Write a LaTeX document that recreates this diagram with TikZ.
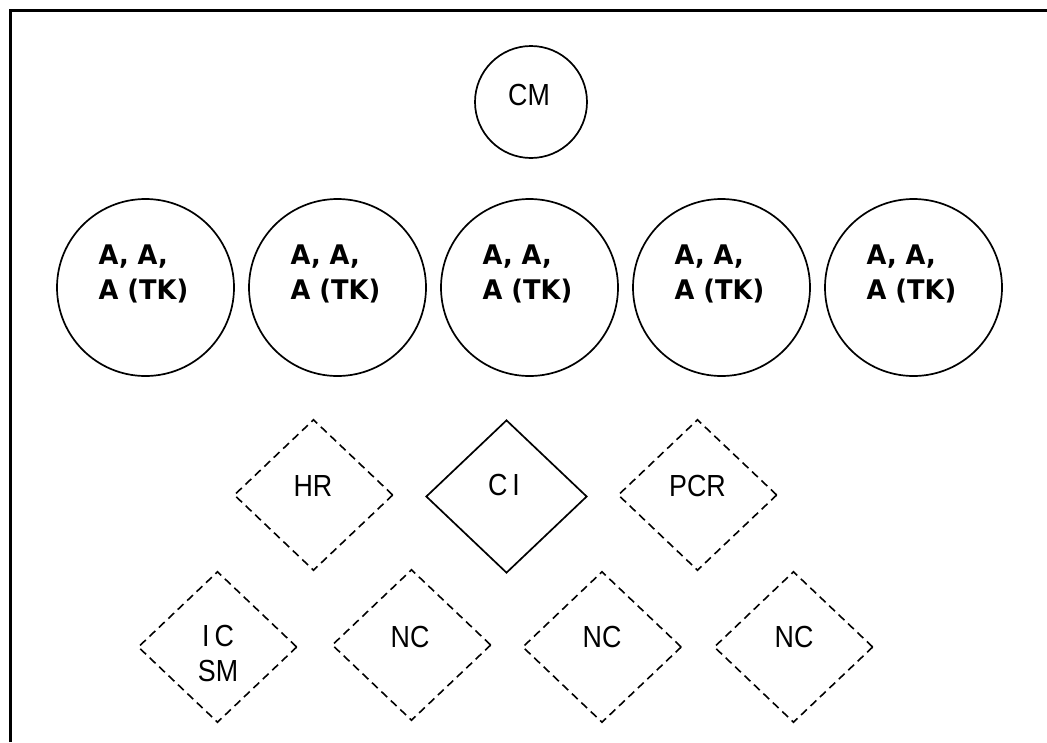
\documentclass[tikz,border=0pt]{standalone}
\usepackage{fontspec}
\usetikzlibrary{shapes.geometric}
\newfontfamily\regfont[FakeStretch=0.88]{Liberation Sans}
\newfontfamily\boldfont[FakeStretch=0.95]{DejaVu Sans Bold}
\tikzset{
  bigcirc/.style={draw, circle, line width=1.7pt, minimum size=177pt, inner sep=0pt},
  smallcirc/.style={draw, circle, line width=1.7pt, minimum size=112pt, inner sep=0pt},
  dashdiam/.style={draw, diamond, dash pattern=on 8pt off 5pt, line width=1.6pt, minimum width=159pt, minimum height=151pt, inner sep=0pt},
  soliddiam/.style={draw, diamond, line width=1.7pt, minimum width=161pt, minimum height=153pt, inner sep=0pt},
  reglabel/.style={font=\regfont\fontsize{30.5}{35}\selectfont, inner sep=0pt},
  boldlabel/.style={font=\boldfont\fontsize{27}{35}\selectfont, inner sep=0pt, align=left, anchor=north west},
  frameline/.style={line width=2.4pt}
}
\begin{document}
\begin{tikzpicture}[x=1pt,y=-1pt]
\useasboundingbox (0,0) rectangle (1047,742);
\coordinate (fbl) at (10.5,742);
\coordinate (ftl) at (10.5,10.5);
\coordinate (ftr) at (1047,10.5);
\draw[frameline] (fbl) -- (ftl) -- (ftr);

% top circle
\node[smallcirc] (cm) at (531,102) {};
\node[reglabel, anchor=base] (cmt) at (529,105) {CM};

% big circles
\foreach \i/\cx in {1/145.5,2/337.5,3/529.5,4/721.5,5/913.5}{
  \node[bigcirc] (c\i) at (\cx,287.5) {};
  \node[boldlabel] (t\i) at (\cx-47,245) {A, A,\\A (TK)};
}

% row 1 diamonds
\node[dashdiam] (hr) at (313.5,495) {};
\node[reglabel, anchor=base] (hrt) at (313,496) {HR};
\node[soliddiam] (ci) at (506.5,496.5) {};
\node[reglabel, anchor=base] (cit) at (504,495) {C\,I};
\node[dashdiam] (pcr) at (697.5,495) {};
\node[reglabel, anchor=base] (pcrt) at (697.5,496) {PCR};

% row 2 diamonds
\node[dashdiam] (icsm) at (217.5,647) {};
\node[reglabel, anchor=north, align=center] (icsmt) at (218,625) {I\,C\\SM};
\node[dashdiam] (nc1) at (411.5,645) {};
\node[reglabel, anchor=base] (nc1t) at (410,647) {NC};
\node[dashdiam] (nc2) at (602,647) {};
\node[reglabel, anchor=base] (nc2t) at (602,647) {NC};
\node[dashdiam] (nc3) at (793.5,647) {};
\node[reglabel, anchor=base] (nc3t) at (794,647) {NC};
\end{tikzpicture}
\end{document}
